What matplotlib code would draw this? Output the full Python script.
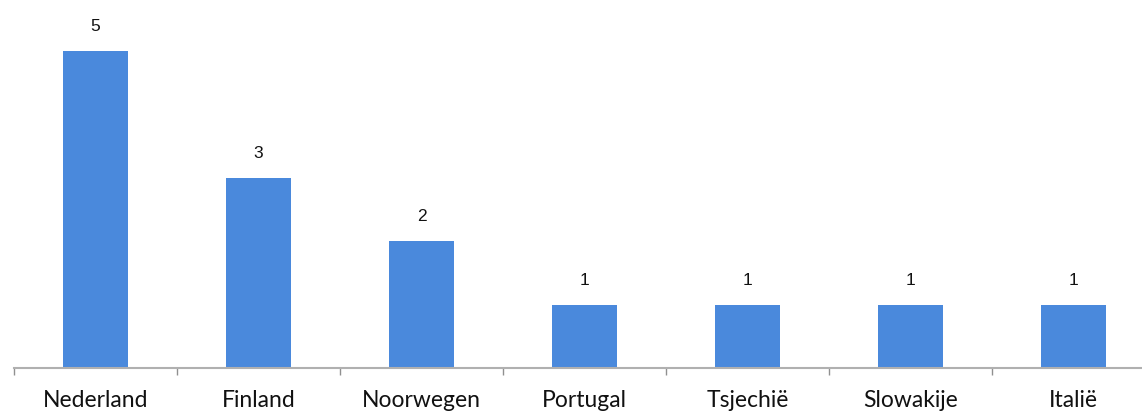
import matplotlib
matplotlib.use("Agg")
import matplotlib.pyplot as plt
import numpy as np

categories = ["Nederland", "Finland", "Noorwegen", "Portugal", "Tsjechië", "Slowakije", "Italië"]
values = [5, 3, 2, 1, 1, 1, 1]

W, H = 1142, 412
fig = plt.figure(figsize=(W / 100, H / 100), dpi=100)
left_px, right_px, base_px, top_px = 14, 1155, 368, 0
ax = fig.add_axes([left_px / W, (H - base_px) / H, (right_px - left_px) / W, (base_px - top_px) / H])

x = np.arange(len(categories))
bars = ax.bar(x, values, width=0.4, color="#4a89dc", zorder=2)
ax.set_xlim(-0.5, len(categories) - 0.5)
ax.set_ylim(0, 5.8)

for xi, v in zip(x, values):
    ax.annotate(str(v), (xi, v), xytext=(0, 12), textcoords="offset points",
                ha="center", va="bottom", fontsize=12.5, family="Liberation Sans", color="#111111")

for s in ["top", "right", "left"]:
    ax.spines[s].set_visible(False)
ax.spines["bottom"].set_color("#b0b0b0")
ax.spines["bottom"].set_linewidth(1.5)
ax.set_yticks([])
ax.set_xticks(x)
ax.set_xticklabels(categories, fontsize=16.5, family="Lato", color="#111111")
ax.tick_params(axis="x", which="major", length=0, pad=16)
ax.set_xticks(np.arange(-0.5, len(categories) + 0.5, 1), minor=True)
ax.tick_params(axis="x", which="minor", length=5, width=1, color="#909090")

fig.savefig("out.png", dpi=100)
